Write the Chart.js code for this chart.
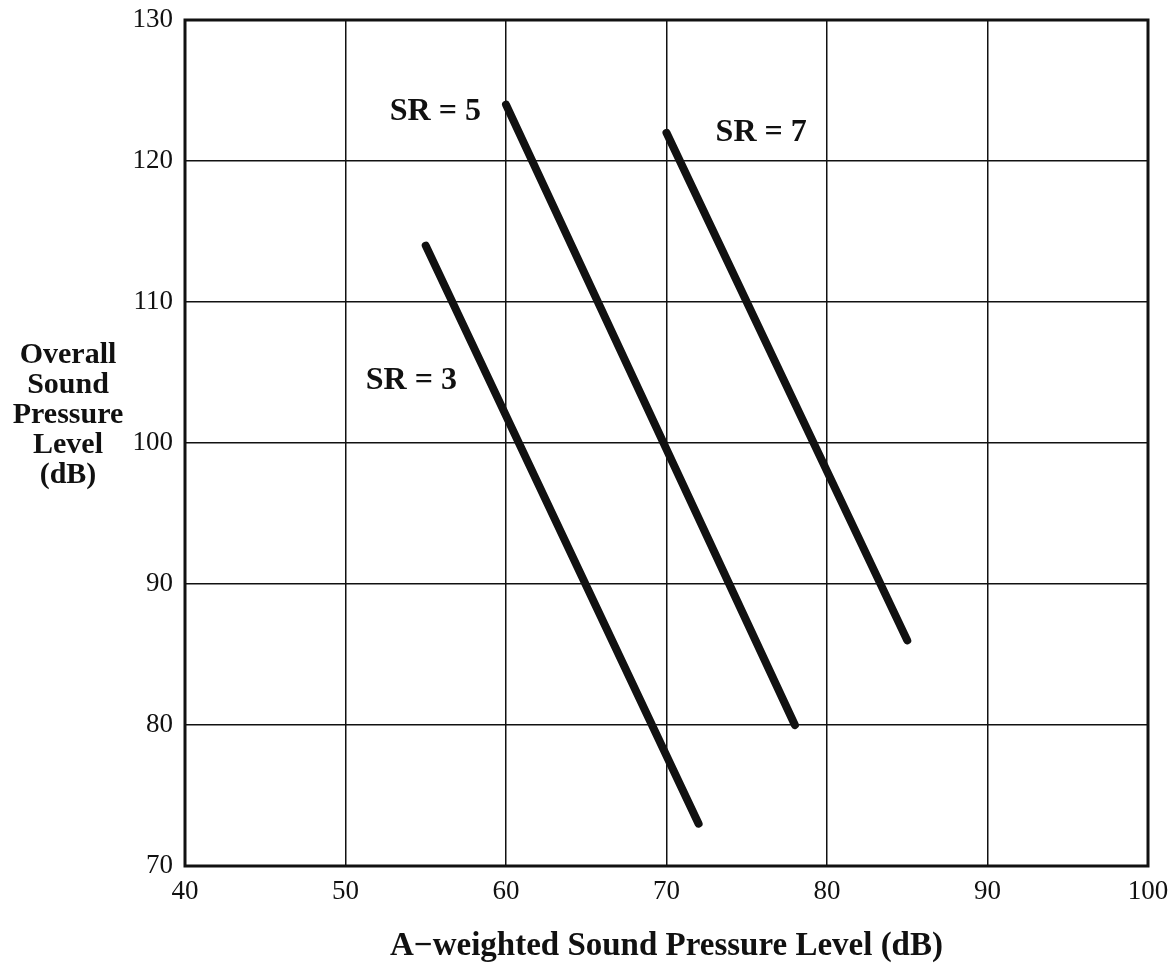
<!DOCTYPE html>
<html>
<head>
<meta charset="utf-8">
<script src="https://cdn.jsdelivr.net/npm/chart.js@4"></script>
<style>
  html, body { margin: 0; padding: 0; background: #fff; }
  #wrap { width: 1175px; height: 973px; }
</style>
</head>
<body>
<div id="wrap"><canvas id="chart" width="1175" height="973"></canvas></div>
<script>
const SERIES = ["SR = 3", "SR = 5", "SR = 7"];
const SR3_X = [55, 72];
const SR3_Y = [114, 73];
const SR5_X = [60, 78];
const SR5_Y = [124, 80];
const SR7_X = [70, 85];
const SR7_Y = [122, 86];
// where each label sits, in data units
const LABEL_X = [54.1, 55.6, 75.9];
const LABEL_Y = [104.4, 123.5, 122];
const X_TICKS = [40, 50, 60, 70, 80, 90, 100];
const Y_TICKS = [70, 80, 90, 100, 110, 120, 130];
const Y_TITLE = ["Overall", "Sound", "Pressure", "Level", "(dB)"];
const X_TITLE = "A\u2212weighted Sound Pressure Level (dB)";

const FONT = "'Liberation Serif', 'Times New Roman', serif";
const INK = "#111";

function toPoints(xs, ys) {
  return xs.map((x, i) => ({ x: x, y: ys[i] }));
}

const lines = [toPoints(SR3_X, SR3_Y), toPoints(SR5_X, SR5_Y), toPoints(SR7_X, SR7_Y)];

const decor = {
  id: "decor",
  afterDraw(chart) {
    const { ctx, chartArea: a, scales } = chart;
    ctx.save();
    // frame
    ctx.strokeStyle = INK;
    ctx.lineWidth = 3;
    ctx.strokeRect(a.left, a.top, a.right - a.left, a.bottom - a.top);

    // series labels
    ctx.fillStyle = INK;
    ctx.font = "bold 32px " + FONT;
    ctx.textAlign = "center";
    ctx.textBaseline = "middle";
    SERIES.forEach((s, i) => {
      ctx.fillText(s, scales.x.getPixelForValue(LABEL_X[i]), scales.y.getPixelForValue(LABEL_Y[i]));
    });

    // horizontal y title
    ctx.font = "bold 30px " + FONT;
    Y_TITLE.forEach((t, i) => {
      ctx.fillText(t, 68, 355 + i * 30);
    });
    ctx.restore();
  }
};

new Chart(document.getElementById("chart"), {
  type: "scatter",
  data: {
    datasets: lines.map((pts, i) => ({
      label: SERIES[i],
      data: pts,
      showLine: true,
      borderColor: INK,
      borderWidth: 8,
      borderCapStyle: "round",
      pointRadius: 0,
      pointHoverRadius: 0
    }))
  },
  options: {
    responsive: false,
    animation: false,
    layout: { padding: { top: 20, right: 27, bottom: 0, left: 0 } },
    plugins: { legend: { display: false }, tooltip: { enabled: false } },
    scales: {
      x: {
        type: "linear",
        min: X_TICKS[0],
        max: X_TICKS[X_TICKS.length - 1],
        afterBuildTicks: s => { s.ticks = X_TICKS.map(v => ({ value: v })); },
        afterFit: s => { s.height = 107; s.paddingLeft = 0; s.paddingRight = 0; },
        grid: { color: INK, lineWidth: 1.5, drawTicks: false },
        border: { display: false },
        ticks: { color: INK, padding: 10, font: { family: FONT, size: 27 } },
        title: {
          display: true,
          text: X_TITLE,
          color: INK,
          padding: { top: 0, bottom: 7 },
          font: { family: FONT, size: 33, weight: "bold" }
        }
      },
      y: {
        type: "linear",
        min: Y_TICKS[0],
        max: Y_TICKS[Y_TICKS.length - 1],
        afterBuildTicks: s => { s.ticks = Y_TICKS.map(v => ({ value: v })); },
        afterFit: s => { s.width = 185; s.paddingTop = 0; s.paddingBottom = 0; },
        grid: { color: INK, lineWidth: 1.5, drawTicks: false },
        border: { display: false },
        ticks: { color: INK, padding: 12, font: { family: FONT, size: 27 } }
      }
    }
  },
  plugins: [decor]
});
</script>
</body>
</html>
